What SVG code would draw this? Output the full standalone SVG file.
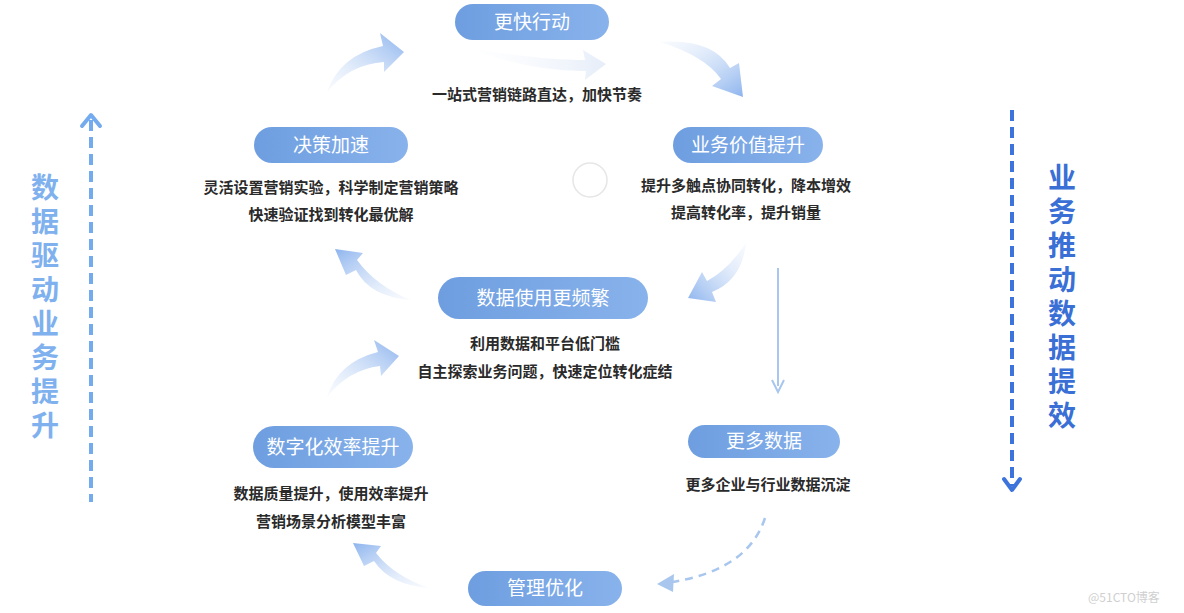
<svg xmlns="http://www.w3.org/2000/svg" width="1184" height="613" viewBox="0 0 1184 613">
<defs>
<linearGradient id="pill" x1="0" y1="0" x2="1" y2="0">
<stop offset="0" stop-color="#6e9ee0"/>
<stop offset="1" stop-color="#88b2eb"/>
</linearGradient>
<linearGradient id="gUR" x1="0" y1="1" x2="1" y2="0">
<stop offset="0" stop-color="#dfeafa" stop-opacity="0.2"/>
<stop offset="1" stop-color="#8db4ee"/>
</linearGradient>
<linearGradient id="gDR" x1="0" y1="0" x2="1" y2="1">
<stop offset="0" stop-color="#dfeafa" stop-opacity="0.2"/>
<stop offset="1" stop-color="#8db4ee"/>
</linearGradient>
<linearGradient id="gUL" x1="1" y1="1" x2="0" y2="0">
<stop offset="0" stop-color="#dfeafa" stop-opacity="0.2"/>
<stop offset="1" stop-color="#8db4ee"/>
</linearGradient>
<linearGradient id="gDL" x1="1" y1="0" x2="0" y2="1">
<stop offset="0" stop-color="#dfeafa" stop-opacity="0.2"/>
<stop offset="1" stop-color="#8db4ee"/>
</linearGradient>
<linearGradient id="gR" x1="0" y1="0" x2="1" y2="0">
<stop offset="0" stop-color="#eef3fb" stop-opacity="0"/>
<stop offset="1" stop-color="#d6e2f5"/>
</linearGradient>
</defs>
<style>
.pill{fill:url(#pill);}
.pt{font-family:"Noto Sans CJK SC","Noto Sans",sans-serif;font-size:19px;fill:#ffffff;text-anchor:middle;}
.bt{font-family:"Noto Sans CJK SC","Noto Sans",sans-serif;font-size:15px;font-weight:bold;fill:#2a2a2a;text-anchor:middle;}
.vl{font-family:"Noto Sans CJK SC","Noto Sans",sans-serif;font-size:28px;font-weight:bold;fill:#7fb1ee;writing-mode:vertical-rl;text-orientation:upright;letter-spacing:6px;}
.vr{font-family:"Noto Sans CJK SC","Noto Sans",sans-serif;font-size:28px;font-weight:bold;fill:#3a6fd6;writing-mode:vertical-rl;text-orientation:upright;letter-spacing:6px;}
.wm{font-family:"Noto Sans CJK SC","Noto Sans",sans-serif;font-size:12px;fill:#cfcfcf;}
</style>
<rect width="1184" height="613" fill="#ffffff"/>

<g id="connectors">
<path d="M327,92 Q340,55 383,46 L380,33 L404,52 L384,72 L384,62 Q350,64 327,92 Z" fill="url(#gUR)"/>
<path d="M468,48 Q540,60 585,60 L583,50 L606,64 L585,80 L586,71 Q530,72 468,48 Z" fill="url(#gR)" opacity="0.6"/>
<path d="M660,42 Q712,38 730,68 L739,63 L743,97 L712,86 L721,79 Q705,56 660,42 Z" fill="url(#gDR)"/>
<path d="M746,243 Q742,280 712,292 L716,302 L688,298 L702,272 L707,281 Q728,270 746,243 Z" fill="url(#gDL)"/>
<path d="M411,300 Q370,297 356,270 L346,275 L335,249 L363,253 L357,260 Q376,286 411,300 Z" fill="url(#gUL)"/>
<path d="M327,397 Q338,362 378,352 L374,340 L399,356 L381,376 L380,366 Q348,370 327,397 Z" fill="url(#gUR)"/>
<path d="M429,588 Q390,585 374,561 L364,566 L353,543 L381,546 L376,553 Q394,576 429,588 Z" fill="url(#gUL)"/>
<line x1="778" y1="268" x2="778" y2="386" stroke="#a9c6ef" stroke-width="2"/>
<polyline points="772,380 778,392 784,380" fill="none" stroke="#a9c6ef" stroke-width="2"/>
<path d="M765,518 Q748,570 672,582" fill="none" stroke="#a9c6ef" stroke-width="2.5" stroke-dasharray="8,6"/>
<polygon points="657,584 674,574 673,592" fill="#a9c6ef"/>
<line x1="91" y1="120" x2="91" y2="502" stroke="#74abef" stroke-width="4" stroke-dasharray="11,6"/>
<polyline points="82,126 91,115 100,126" fill="none" stroke="#74abef" stroke-width="4" stroke-linecap="round" stroke-linejoin="round"/>
<line x1="1012" y1="110" x2="1012" y2="486" stroke="#3c74db" stroke-width="4" stroke-dasharray="11,6"/>
<polyline points="1004,479 1012,490 1020,479" fill="none" stroke="#3c74db" stroke-width="4" stroke-linecap="round" stroke-linejoin="round"/>
</g>

<circle cx="590" cy="180" r="17" fill="none" stroke="#e6e6e6" stroke-width="1.5"/>

<g id="n-fast">
<rect class="pill" x="455" y="4" width="154" height="36" rx="18"/>
<text class="pt" x="532" y="29">更快行动</text>
<text class="bt" x="537" y="100">一站式营销链路直达，加快节奏</text>
</g>
<g id="n-decision">
<rect class="pill" x="254" y="127" width="154" height="36" rx="18"/>
<text class="pt" x="331" y="152">决策加速</text>
<text class="bt" x="331" y="193">灵活设置营销实验，科学制定营销策略</text>
<text class="bt" x="331" y="220">快速验证找到转化最优解</text>
</g>
<g id="n-value">
<rect class="pill" x="673" y="127" width="150" height="36" rx="18"/>
<text class="pt" x="748" y="152">业务价值提升</text>
<text class="bt" x="746" y="191">提升多触点协同转化，降本增效</text>
<text class="bt" x="746" y="218">提高转化率，提升销量</text>
</g>
<g id="n-usage">
<rect class="pill" x="438" y="277" width="210" height="42" rx="21"/>
<text class="pt" x="543" y="305">数据使用更频繁</text>
<text class="bt" x="545" y="349">利用数据和平台低门槛</text>
<text class="bt" x="545" y="377">自主探索业务问题，快速定位转化症结</text>
</g>
<g id="n-efficiency">
<rect class="pill" x="253" y="426" width="160" height="42" rx="21"/>
<text class="pt" x="333" y="454">数字化效率提升</text>
<text class="bt" x="331" y="499">数据质量提升，使用效率提升</text>
<text class="bt" x="331" y="527">营销场景分析模型丰富</text>
</g>
<g id="n-moredata">
<rect class="pill" x="688" y="425" width="152" height="33" rx="16.5"/>
<text class="pt" x="764" y="448">更多数据</text>
<text class="bt" x="768" y="490">更多企业与行业数据沉淀</text>
</g>
<g id="n-manage">
<rect class="pill" x="468" y="571" width="154" height="35" rx="17.5"/>
<text class="pt" x="545" y="595">管理优化</text>
</g>

<g id="left-label">
<text class="vl" x="45" y="173">数据驱动业务提升</text>
</g>
<g id="right-label">
<text class="vr" x="1062" y="163">业务推动数据提效</text>
</g>
<text class="wm" x="1088" y="602">@51CTO博客</text>
</svg>
